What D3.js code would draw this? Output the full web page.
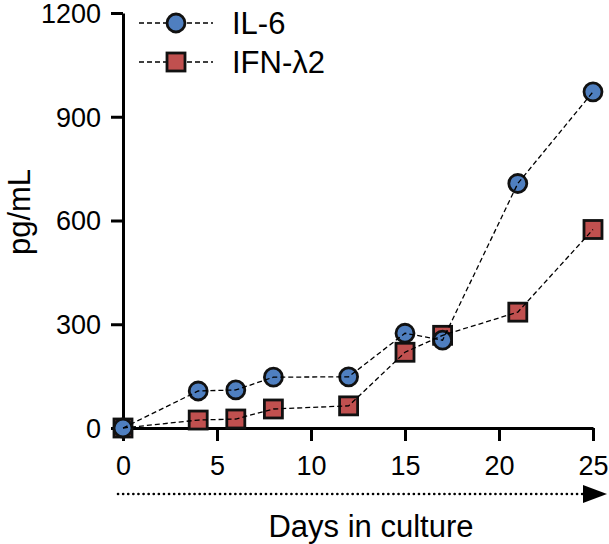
<!DOCTYPE html>
<html>
<head>
<meta charset="utf-8">
<script src="https://cdn.jsdelivr.net/npm/d3@7"></script>
<style>
body{margin:0;background:#fff;}
text{font-family:"Liberation Sans",Arial,sans-serif;fill:#000;}
</style>
</head>
<body>
<svg id="chart" width="609" height="544"></svg>
<script>
const days = [0, 4, 6, 8, 12, 15, 17, 21, 25];
const il6 = [0, 107, 110, 147, 148, 274, 254, 707, 972];
const ifnl2 = [0, 23, 26, 55, 64, 219, 268, 335, 574];
const xTicks = [0, 5, 10, 15, 20, 25];
const yTicks = [0, 300, 600, 900, 1200];
const seriesNames = ["IL-6", "IFN-\u03bb2"];

const svg = d3.select("#chart");
const x = d3.scaleLinear().domain([0, 25]).range([123, 593]);
const y = d3.scaleLinear().domain([0, 1200]).range([428, 13]);

// axes
const xAxis = svg.append("g").attr("transform", "translate(0,428)")
  .call(d3.axisBottom(x).tickValues(xTicks).tickFormat(d3.format("d")).tickSize(13).tickPadding(15).tickSizeOuter(0));
const yAxis = svg.append("g").attr("transform", "translate(123,0)")
  .call(d3.axisLeft(y).tickValues(yTicks).tickFormat(d3.format("d")).tickSize(12).tickPadding(10).tickSizeOuter(0));
[xAxis, yAxis].forEach(g => {
  g.select(".domain").attr("stroke", "#000").attr("stroke-width", 3);
  g.selectAll(".tick line").attr("stroke", "#000").attr("stroke-width", 3);
  g.selectAll(".tick text").attr("font-size", 27).attr("font-family", "Liberation Sans, Arial, sans-serif").attr("fill", "#000");
});
xAxis.selectAll(".tick text").attr("dy", "0.71em");
yAxis.selectAll(".tick text").attr("dy", "0.35em");

// axis titles
svg.append("text").attr("x", 371).attr("y", 537).attr("text-anchor", "middle")
  .attr("font-size", 31).text("Days in culture");
svg.append("text").attr("transform", "translate(30,212) rotate(-90)").attr("text-anchor", "middle")
  .attr("font-size", 31).text("pg/mL");

// dotted arrow
svg.append("line").attr("x1", 118).attr("x2", 583).attr("y1", 494).attr("y2", 494)
  .attr("stroke", "#000").attr("stroke-width", 2.6).attr("stroke-linecap", "round")
  .attr("stroke-dasharray", "0.1,5");
svg.append("path").attr("d", "M583,485 L607,494 L583,503 Z").attr("fill", "#000");

const line = d3.line().x((d, i) => x(days[i])).y(d => y(d));
const blue = "#4f7fc0", red = "#c0504f";

// markers
const gM = svg.append("g");
gM.selectAll("rect.ifn").data(ifnl2).enter().append("rect")
  .attr("x", (d, i) => x(days[i]) - 9).attr("y", d => y(d) - 9)
  .attr("width", 18).attr("height", 18)
  .attr("fill", red).attr("stroke", "#111").attr("stroke-width", 2.8);
gM.selectAll("circle.il6").data(il6).enter().append("circle")
  .attr("cx", (d, i) => x(days[i])).attr("cy", d => y(d)).attr("r", 9)
  .attr("fill", blue).attr("stroke", "#111").attr("stroke-width", 2.8);

// dashed lines
[ifnl2, il6].forEach(s => {
  svg.append("path").attr("d", line(s)).attr("fill", "none")
    .attr("stroke", "#000").attr("stroke-width", 1.3).attr("stroke-dasharray", "5,3");
});

// legend
const legY = [23, 62];
legY.forEach((ly, i) => {
  svg.append("line").attr("x1", 139).attr("x2", 213).attr("y1", ly).attr("y2", ly)
    .attr("stroke", "#000").attr("stroke-width", 1.3).attr("stroke-dasharray", "5,3");
  if (i === 0) {
    svg.append("circle").attr("cx", 176).attr("cy", ly).attr("r", 9)
      .attr("fill", blue).attr("stroke", "#111").attr("stroke-width", 2.8);
  } else {
    svg.append("rect").attr("x", 167).attr("y", ly - 9).attr("width", 18).attr("height", 18)
      .attr("fill", red).attr("stroke", "#111").attr("stroke-width", 2.8);
  }
  svg.append("text").attr("x", 232).attr("y", ly).attr("dy", "0.35em")
    .attr("font-size", 31).text(seriesNames[i]);
});
</script>
</body>
</html>
